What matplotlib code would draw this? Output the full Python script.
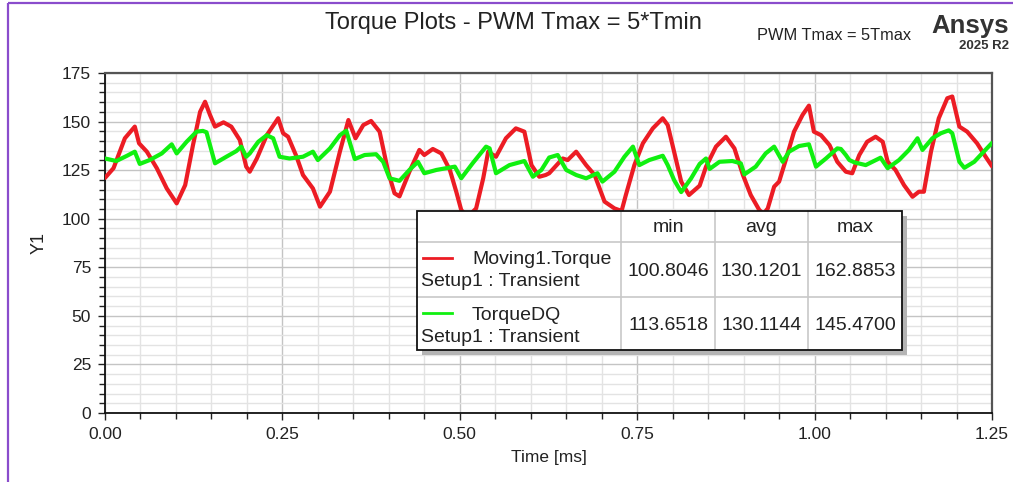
import matplotlib
matplotlib.use("Agg")
import matplotlib.pyplot as plt
from matplotlib.patches import Rectangle
from matplotlib.ticker import MultipleLocator, FormatStrFormatter

plt.rcParams['font.family'] = ['Liberation Sans', 'DejaVu Sans']

# ---- data -------------------------------------------------------------
t_torque = [0.000, 0.012, 0.028, 0.042, 0.048, 0.059, 0.073, 0.087, 0.101, 0.113,
            0.124, 0.134, 0.141, 0.148, 0.155, 0.167, 0.178, 0.190, 0.199, 0.204,
            0.214, 0.228, 0.244, 0.251, 0.258, 0.270, 0.279, 0.293, 0.303, 0.317,
            0.331, 0.343, 0.353, 0.364, 0.375, 0.387, 0.399, 0.408, 0.415, 0.429,
            0.443, 0.450, 0.462, 0.474, 0.486, 0.495, 0.502, 0.511, 0.523, 0.533,
            0.540, 0.551, 0.565, 0.579, 0.591, 0.601, 0.612, 0.621, 0.626, 0.645,
            0.652, 0.664, 0.678, 0.690, 0.697, 0.704, 0.718, 0.728, 0.734, 0.746,
            0.758, 0.772, 0.786, 0.793, 0.802, 0.812, 0.823, 0.838, 0.847, 0.861,
            0.875, 0.887, 0.899, 0.910, 0.922, 0.928, 0.934, 0.943, 0.950, 0.960,
            0.971, 0.983, 0.992, 0.999, 1.009, 1.021, 1.032, 1.044, 1.053, 1.063,
            1.074, 1.086, 1.096, 1.103, 1.114, 1.126, 1.138, 1.147, 1.154, 1.164,
            1.175, 1.187, 1.194, 1.204, 1.215, 1.229, 1.241, 1.250]
moving1_torque = [121.0, 126.0, 141.4, 147.4, 138.8, 134.5, 126.0, 115.6, 107.9, 117.3,
                  137.9, 155.0, 160.2, 153.4, 147.4, 149.6, 147.4, 140.5, 126.8, 124.2,
                  131.0, 143.0, 151.7, 144.0, 142.2, 131.9, 122.5, 115.6, 106.2, 113.9,
                  134.5, 150.8, 141.4, 148.2, 150.3, 144.8, 124.2, 113.1, 111.5, 124.2,
                  135.4, 132.8, 135.9, 133.6, 125.1, 113.9, 104.5, 100.8, 105.3, 120.8,
                  134.5, 131.9, 141.4, 146.5, 144.8, 127.6, 121.6, 122.5, 123.4, 131.0,
                  130.2, 134.5, 127.6, 122.5, 115.6, 108.8, 105.3, 104.0, 112.2, 127.6,
                  138.8, 146.5, 151.7, 148.2, 134.5, 119.1, 112.2, 117.0, 126.8, 137.1,
                  142.2, 136.2, 122.5, 112.2, 104.5, 102.5, 105.3, 116.5, 119.1, 131.0,
                  144.8, 153.4, 158.2, 144.8, 143.0, 137.9, 129.3, 124.2, 123.4, 132.8,
                  139.6, 142.2, 139.6, 129.3, 125.1, 117.3, 111.3, 113.9, 113.9, 134.5,
                  151.7, 162.0, 162.9, 147.4, 144.8, 138.8, 131.9, 127.0]

t_dq = [0.000, 0.016, 0.031, 0.042, 0.049, 0.063, 0.080, 0.094, 0.101, 0.115,
        0.129, 0.138, 0.143, 0.155, 0.171, 0.185, 0.192, 0.199, 0.204, 0.216,
        0.228, 0.237, 0.246, 0.260, 0.279, 0.293, 0.300, 0.317, 0.331, 0.340,
        0.352, 0.366, 0.382, 0.392, 0.401, 0.415, 0.429, 0.441, 0.450, 0.467,
        0.493, 0.502, 0.518, 0.537, 0.542, 0.551, 0.570, 0.591, 0.603, 0.615,
        0.626, 0.638, 0.650, 0.664, 0.678, 0.694, 0.701, 0.718, 0.732, 0.744,
        0.753, 0.767, 0.786, 0.793, 0.802, 0.812, 0.826, 0.838, 0.847, 0.852,
        0.866, 0.884, 0.896, 0.901, 0.917, 0.931, 0.943, 0.955, 0.964, 0.978,
        0.992, 1.002, 1.016, 1.032, 1.037, 1.044, 1.049, 1.056, 1.072, 1.093,
        1.103, 1.119, 1.133, 1.145, 1.152, 1.166, 1.178, 1.189, 1.194, 1.204,
        1.211, 1.225, 1.236, 1.250]
torque_dq = [131.0, 129.7, 132.4, 134.5, 128.2, 130.2, 133.6, 138.3, 133.6, 139.6,
             144.8, 145.2, 144.5, 128.5, 131.9, 134.8, 137.1, 131.9, 133.6, 139.6,
             143.0, 141.4, 131.9, 131.0, 131.9, 134.5, 130.2, 136.2, 143.0, 145.3,
             130.7, 132.8, 133.2, 129.3, 120.8, 119.5, 125.1, 129.3, 123.4, 125.1,
             126.8, 120.8, 128.5, 137.1, 136.2, 123.4, 127.6, 129.7, 121.6, 125.1,
             131.5, 132.8, 125.1, 122.5, 120.8, 123.4, 119.1, 124.2, 131.9, 137.1,
             127.6, 130.2, 132.4, 127.6, 119.9, 113.7, 120.8, 128.2, 131.0, 125.6,
             129.3, 129.7, 128.5, 122.8, 126.8, 133.6, 137.1, 129.3, 134.5, 137.4,
             138.3, 126.8, 131.0, 136.2, 135.9, 132.8, 130.2, 129.0, 127.6, 131.4,
             126.0, 130.2, 135.4, 141.4, 135.4, 141.4, 144.0, 145.47, 144.0, 129.3,
             126.2, 129.3, 133.6, 139.0]

series_names = ["Moving1.Torque", "TorqueDQ"]
setup_name = "Setup1 : Transient"
stat_headers = ["min", "avg", "max"]
stat_values = [["100.8046", "130.1201", "162.8853"],
               ["113.6518", "130.1144", "145.4700"]]
series_colors = ["#ec1c24", "#10f010"]

x_ticks = [0.00, 0.25, 0.50, 0.75, 1.00, 1.25]
y_ticks = [0, 25, 50, 75, 100, 125, 150, 175]

# ---- figure -----------------------------------------------------------
W, H = 1013, 482
fig = plt.figure(figsize=(W / 100, H / 100), dpi=100)
fig.patch.set_facecolor("white")

def fx(px):
    return px / W

def fy(py):
    return 1 - py / H

ax_l, ax_r, ax_t, ax_b = 105, 992, 73, 413
ax = fig.add_axes([fx(ax_l), fy(ax_b), fx(ax_r - ax_l), (ax_b - ax_t) / H])

ax.plot(t_torque, moving1_torque, color=series_colors[0], lw=3.0, zorder=3,
        solid_joinstyle="round", solid_capstyle="round")
ax.plot(t_dq, torque_dq, color=series_colors[1], lw=3.0, zorder=4,
        solid_joinstyle="round", solid_capstyle="round")

ax.set_xlim(0, 1.25)
ax.set_ylim(0, 175)
ax.set_xticks(x_ticks)
ax.set_yticks(y_ticks)
ax.xaxis.set_minor_locator(MultipleLocator(0.05))
ax.yaxis.set_minor_locator(MultipleLocator(5))
ax.xaxis.set_major_formatter(FormatStrFormatter("%.2f"))

ax.grid(which="minor", color="#e3e3e3", lw=1.0, zorder=0)
ax.grid(which="major", color="#c4c4c4", lw=1.0, zorder=0)
ax.set_axisbelow(True)

ax.tick_params(which="both", direction="out", length=5, width=1.0, colors="#222222",
               labelsize=12.5, pad=5)
ax.tick_params(which="minor", length=4)
for s in ("left", "bottom"):
    ax.spines[s].set_color("#111111")
    ax.spines[s].set_linewidth(1.3)
for s in ("top", "right"):
    ax.spines[s].set_color("#555555")
    ax.spines[s].set_linewidth(1.6)

ax.set_xlabel("Time [ms]", fontsize=12.5, color="#222222", labelpad=6)
ax.set_ylabel("Y1", fontsize=13, color="#222222", labelpad=10)

# ---- overlay in pixel coordinates (header, legend table, border) ------
ov = fig.add_axes([0, 0, 1, 1], zorder=10)
ov.set_xlim(0, W)
ov.set_ylim(H, 0)
ov.axis("off")
ov.patch.set_alpha(0)

# window border
ov.plot([8, 8], [H, 3], color="#8a4ccc", lw=1.6, solid_capstyle="butt")
ov.plot([8, W], [3, 3], color="#8a4ccc", lw=1.6, solid_capstyle="butt")

ov.text(513, 23, "Torque Plots - PWM Tmax = 5*Tmin", fontsize=17, color="#222222",
        ha="center", va="center")
ov.text(834, 36, "PWM Tmax = 5Tmax", fontsize=11.8, color="#222222",
        ha="center", va="center")
ov.text(1009, 26, "Ansys", fontsize=18.5, fontweight="bold", color="#333333",
        ha="right", va="center")
ov.text(1009, 46, "2025 R2", fontsize=9.5, fontweight="bold", color="#333333",
        ha="right", va="center")

# statistics table / legend
bx0, bx1, by0, by1 = 417, 902, 211, 350
col_edges = [bx0, 621, 715, 808, bx1]
row_edges = [by0, 242, 297, by1]

ov.add_patch(Rectangle((bx0 + 5, by0 + 5), bx1 - bx0, by1 - by0,
                       facecolor="#b4b4b4", edgecolor="none", zorder=1))
ov.add_patch(Rectangle((bx0, by0), bx1 - bx0, by1 - by0,
                       facecolor="white", edgecolor="none", zorder=2))
for xe in col_edges[1:-1]:
    ov.plot([xe, xe], [by0, by1], color="#c8c8c8", lw=1.2, zorder=3)
for ye in row_edges[1:-1]:
    ov.plot([bx0, bx1], [ye, ye], color="#c8c8c8", lw=1.2, zorder=3)
ov.add_patch(Rectangle((bx0, by0), bx1 - bx0, by1 - by0,
                       facecolor="none", edgecolor="#111111", lw=1.3, zorder=4))

tfs = 14
for j, hdr in enumerate(stat_headers):
    xc = (col_edges[j + 1] + col_edges[j + 2]) / 2
    ov.text(xc, (row_edges[0] + row_edges[1]) / 2 + 1, hdr, fontsize=tfs,
            color="#222222", ha="center", va="center", zorder=5)

for i, name in enumerate(series_names):
    r0, r1 = row_edges[i + 1], row_edges[i + 2]
    ov.plot([423, 452], [r0 + 16, r0 + 16], color=series_colors[i], lw=2.0, zorder=5)
    ov.text(472, r0 + 18, name, fontsize=tfs, color="#222222",
            ha="left", va="center", zorder=5)
    ov.text(421, r0 + 40, setup_name, fontsize=tfs, color="#222222",
            ha="left", va="center", zorder=5)
    for j, val in enumerate(stat_values[i]):
        xc = (col_edges[j + 1] + col_edges[j + 2]) / 2
        ov.text(xc, (r0 + r1) / 2 + 2, val, fontsize=tfs, color="#222222",
                ha="center", va="center", zorder=5)

fig.savefig("out.png", dpi=100)
